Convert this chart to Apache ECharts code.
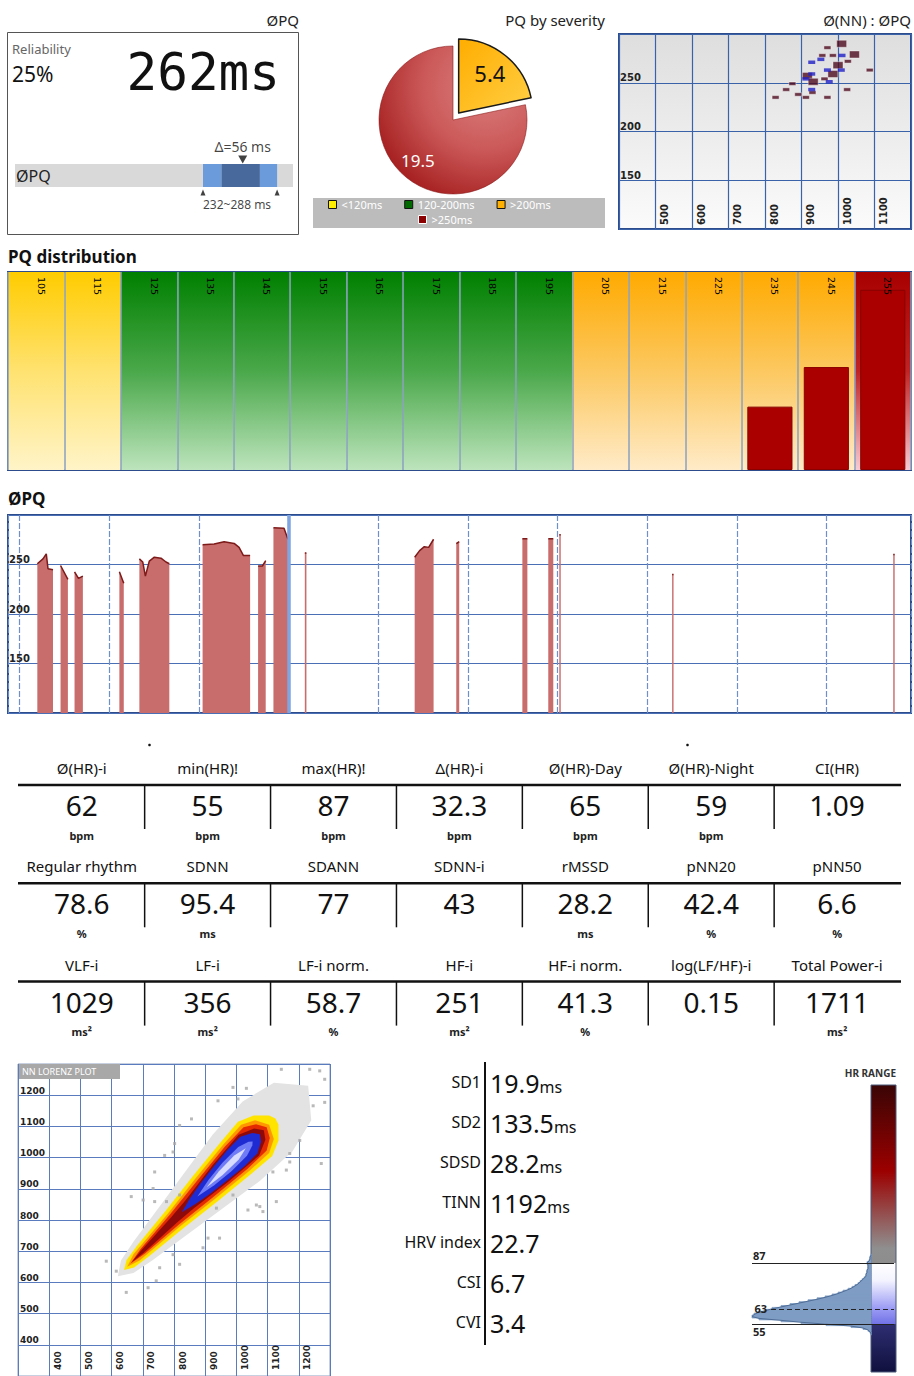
<!DOCTYPE html>
<html><head><meta charset="utf-8">
<script src="https://cdn.jsdelivr.net/npm/echarts@6/dist/echarts.min.js"></script>
<style>html,body{margin:0;padding:0;background:#fff}#c{width:914px;height:1376px}</style>
</head><body><div id="c"></div>
<script>
// ---------------- DATA ----------------
const reliability = 25;
const pqMean = 262;
const pqRange = [232, 288];
const pqCore = [246, 275];

const severityNames = ['<120ms', '120-200ms', '>200ms', '>250ms'];
const severityValues = [0, 0, 5.4, 19.5];

// Ø(NN) : ØPQ  [NN ms, PQ ms, count]
const nnPqDark = [[1010,290,2],[971,286,1],[957,278,1],[986,278,1],[1045,279,2],[1027,272,1],[1000,268,2],[1087,263,1],[916,257,2],[932,251,2],[963,254,1],[986,259,2],[875,249,1],[858,243,1],[891,238,1],[829,235,1],[912,235,1],[930,240,1],[971,235,1],[1025,243,1]];
const nnPqBlue = [[928,271,1],[953,274,1],[1011,278,1],[971,263,1],[1009,263,1],[928,259,1],[912,254,1],[976,251,1],[928,243,1]];

const distCategories = ['105','115','125','135','145','155','165','175','185','195','205','215','225','235','245','255'];
const distValues = [null,null,null,null,null,null,null,null,null,null,null,null,null,32,52,91];

// ØPQ trend: [hours, PQ ms], null = no data
const trendData = [
 [0.197,250.8],[0.260,255.7],[0.297,260.7],[0.316,245.8],[0.372,244.8],[0.41,null],
 [0.456,249],[0.538,235],[0.57,null],
 [0.612,242.6],[0.656,236],[0.705,238.3],[0.8,null],
 [1.112,242.6],[1.161,231],[1.2,null],
 [1.335,255.7],[1.373,252.5],[1.402,238.3],[1.446,253.5],[1.502,257.4],[1.576,256.4],[1.632,252.5],[1.669,250.8],[1.8,null],
 [2.040,270],[2.169,270.6],[2.280,272.9],[2.392,271.3],[2.447,267.3],[2.496,259],[2.570,259],[2.6,null],
 [2.659,248.5],[2.707,248.5],[2.744,254],[2.78,null],
 [2.830,287],[2.948,286.5],[2.992,275.5],[3.05,null],
 [3.180,261.7],[3.198,261.7],[3.3,null],
 [4.405,257.4],[4.460,264],[4.513,268],[4.561,267.3],[4.616,275.5],[4.7,null],
 [4.869,271],[4.902,273],[5.0,null],
 [5.606,276],[5.662,276],[5.7,null],
 [5.895,276],[5.951,276],[5.99,null],
 [6.018,280],[6.034,280],[6.1,null],
 [7.276,240],[7.292,240],[7.4,null],
 [9.742,260],[9.758,260]
];
const trendMarker = 3;
const trendYTicks = [150, 200, 250];

const statHeaders = [
 ['Ø(HR)-i','min(HR)!','max(HR)!','Δ(HR)-i','Ø(HR)-Day','Ø(HR)-Night','CI(HR)'],
 ['Regular rhythm','SDNN','SDANN','SDNN-i','rMSSD','pNN20','pNN50'],
 ['VLF-i','LF-i','LF-i norm.','HF-i','HF-i norm.','log(LF/HF)-i','Total Power-i']
];
const statValues = [
 ['62','55','87','32.3','65','59','1.09'],
 ['78.6','95.4','77','43','28.2','42.4','6.6'],
 ['1029','356','58.7','251','41.3','0.15','1711']
];
const statUnits = [
 ['bpm','bpm','bpm','bpm','bpm','bpm',''],
 ['%','ms','','','ms','%','%'],
 ['ms²','ms²','%','ms²','%','','ms²']
];

// NN Lorenz plot density layers (outline polygons, ms) outer -> inner
const pcGrey   = [[620,620],[630,670],[670,730],[755,845],[840,960],[925,1075],[1020,1180],[1120,1240],[1230,1230],[1240,1120],[1180,1020],[1075,925],[960,840],[845,755],[730,670],[670,630]];
const pcYellow = [[640,640],[648,672],[682,718],[772,828],[860,940],[950,1050],[1005,1115],[1055,1135],[1105,1135],[1125,1125],[1135,1105],[1135,1055],[1115,1005],[1050,950],[940,860],[828,772],[718,682],[672,648]];
const pcOrange = [[650,650],[670,690],[780,820],[868,932],[958,1042],[1015,1105],[1060,1120],[1105,1105],[1120,1060],[1105,1015],[1042,958],[932,868],[820,780],[690,670]];
const pcRed    = [[660,660],[693,707],[785,815],[874,926],[964,1036],[1023,1097],[1063,1107],[1097,1097],[1107,1063],[1097,1023],[1036,964],[926,874],[815,785],[707,693]];
const pcDark   = [[665,665],[696,704],[791,809],[837,863],[924,976],[1007,1073],[1057,1093],[1088,1088],[1093,1057],[1073,1007],[976,924],[863,837],[809,791],[704,696]];
const pcBlue   = [[825,825],[851,869],[884,916],[928,972],[973,1027],[1013,1067],[1051,1079],[1075,1075],[1079,1051],[1067,1013],[1027,973],[972,928],[916,884],[869,851]];
const pcLight  = [[875,875],[911,929],[956,984],[1006,1034],[1039,1051],[1052,1052],[1051,1039],[1034,1006],[984,956],[929,911]];
const pcWhite  = [[905,905],[944,956],[993,1007],[1030,1030],[1007,993],[956,944]];
const pcOutliers = [[1144,1283],[1235,1283],[1267,1278],[1283,1251],[1032,1222],[989,1225],[1005,1188],[941,1182],[856,1124],[818,1103],[802,1045],[797,1018],[770,1007],[738,954],[733,901],[663,875],[701,864],[738,859],[776,859],[818,880],[1117,954],[1160,960],[1171,986],[1272,981],[1128,859],[1064,848],[1037,832],[1085,827],[1075,843],[946,742],[893,711],[909,742],[818,658],[754,647],[743,605],[717,583],[647,568],[583,668],[615,636],[1171,1013],[1203,1055],[1246,1166],[1283,1177],[936,838],[989,880],[797,689]];

const sdLabels = ['SD1','SD2','SDSD','TINN','HRV index','CSI','CVI'];
const sdValues = ['19.9','133.5','28.2','1192','22.7','6.7','3.4'];
const sdUnits  = ['ms','ms','ms','ms','','',''];

// HR histogram [bpm, relative count]
const hrHist = [[91,0],[90,1],[89,1],[88,2],[87,4],[86,3],[85,3],[84,3],[83,4],[82,4],[81,5],[80,5],[79,7],[78,9],[77,11],[76,13],[75,16],[74,19],[73,23],[72,28],[71,33],[70,39],[69,46],[68,54],[67,63],[66,72],[65,81],[64,90],[63,99],[62,106],[61,113],[60,117],[59,119],[58,112],[57,90],[56,70],[55,45],[54,20],[53,8],[52,3],[51,1],[50,0]];
const hrMax = 87, hrMean = 63, hrMin = 55;
const hrScale = [30, 180];

// ---------------- STYLE / BUILD ----------------
const FONT = '"Noto Sans", "DejaVu Sans", sans-serif';
const lin = (stops, x2, y2) => ({type:'linear', x:0, y:0, x2: x2 === undefined ? 0 : x2, y2: y2 === undefined ? 1 : y2, colorStops: stops.map((c,i)=>({offset: i/(stops.length-1), color:c}))});

const G = [];
function T(x, y, text, font, fill, align, valign, z) {
  G.push({type:'text', x:x, y:y, silent:true, z: z||5, style:{text:text, font:font, fill:fill||'#111',
    textAlign:align||'left', textVerticalAlign:valign||'middle', align:align||'left', verticalAlign:valign||'middle'}});
}
function R(x, y, w, h, style, z) { G.push({type:'rect', silent:true, z: z||0, shape:{x:x,y:y,width:w,height:h}, style:style}); }
function L(x1, y1, x2, y2, w, color) { G.push({type:'line', silent:true, z:5, shape:{x1:x1,y1:y1,x2:x2,y2:y2}, style:{stroke:color||'#111', lineWidth:w}}); }

// titles
T(299, 20, 'ØPQ', '15px ' + FONT, '#222', 'right');
T(605, 20, 'PQ by severity', '15px ' + FONT, '#222', 'right');
T(911, 20, 'Ø(NN) : ØPQ', '15px ' + FONT, '#222', 'right');
T(8, 256, 'PQ distribution', 'bold 17px ' + FONT, '#111', 'left');
T(8, 498, 'ØPQ', 'bold 17px ' + FONT, '#111', 'left');

// top-left panel
R(7.5, 32.5, 291, 202, {fill:'none', stroke:'#555', lineWidth:1});
T(12, 49, 'Reliability', '13px ' + FONT, '#666');
T(12, 74, reliability + '%', '21px ' + FONT, '#111');
T(280, 72, pqMean + 'ms', '51px "DejaVu Sans Mono", monospace', '#111', 'right');
T(16, 176, 'ØPQ', '16px ' + FONT, '#222', 'left', 'middle', 6);

// pie legend box
R(313, 198, 292, 30, {fill:'#bcbcbc'});

// stats table
const rowY0 = 768, rowStep = 98.3, colX0 = 81.7, colStep = 125.9;
statHeaders.forEach((row, r) => {
  const y = rowY0 + r * rowStep;
  row.forEach((h, c) => {
    const cx = colX0 + c * colStep;
    T(cx, y, h, '15px ' + FONT, '#111', 'center');
    T(cx, y + 37, statValues[r][c], '28px ' + FONT, '#111', 'center');
    if (statUnits[r][c]) T(cx, y + 67, statUnits[r][c], 'bold 11px ' + FONT, '#222', 'center');
    if (c < 6) L(cx + colStep/2, y + 17, cx + colStep/2, y + 61, 1.5);
  });
  L(18, y + 17, 901, y + 17, 2.5);
});
G.push({type:'circle', silent:true, shape:{cx:149.5, cy:745, r:1.3}, style:{fill:'#111'}});
G.push({type:'circle', silent:true, shape:{cx:687.5, cy:745, r:1.3}, style:{fill:'#111'}});

// SD panel
L(485, 1062, 485, 1345, 2);
sdLabels.forEach((lab, i) => {
  const y = 1082 + i * 40;
  T(481, y, lab, '16px ' + FONT, '#111', 'right');
  G.push({type:'text', x:490, y:y + 1, silent:true, z:5, style:{
    text: '{v|' + sdValues[i] + '}' + (sdUnits[i] ? '{u|' + sdUnits[i] + '}' : ''),
    textVerticalAlign:'middle', verticalAlign:'middle', textAlign:'left', align:'left',
    rich:{ v:{font:'25px ' + FONT, fill:'#111', color:'#111', verticalAlign:'bottom'},
           u:{font:'16px ' + FONT, fill:'#111', color:'#111', verticalAlign:'bottom', padding:[0,0,1,0]} }
  }});
});

// Lorenz label & HR range label
R(19, 1064, 101, 15, {fill:'#a8a8a8'}, 6);
T(22, 1071.5, 'NN LORENZ PLOT', '9px ' + FONT, '#fff', 'left', 'middle', 7);
T(896, 1073, 'HR RANGE', 'bold 10px ' + FONT, '#333', 'right');

// severity colours
const sevLegendColors = ['#ffee00', '#006a00', '#ffb000', '#8b0000'];
const sevClassOf = v => v < 120 ? 0 : v < 200 ? 1 : v < 250 ? 2 : 3;
const bandGrad = [
  lin(['#ffcc00', '#ffe270', '#fff4c8']),
  lin(['#008000', '#4aa84a', '#bde4bd']),
  lin(['#ffaa00', '#fcc860', '#ffebc8']),
  lin(['#a80000', '#c02424', '#f6ccd4'])
];

const pcLayers = [pcGrey, pcYellow, pcOrange, pcRed, pcDark, pcBlue, pcLight, pcWhite];
const pcColors = ['#e3e3e3', '#ffe400', '#ff9800', '#e42a00', '#8e0a0a', '#1f2bd2', '#6f7cf5', '#d8dcff'];

const hrGrad = {type:'linear', x:0, y:0, x2:0, y2:1, colorStops:[
  {offset:0, color:'#3a0505'},
  {offset:0.3, color:'#9c0000'},
  {offset:0.57, color:'#8f8f8f'},
  {offset:(hrScale[1]-hrMax)/(hrScale[1]-hrScale[0]), color:'#8d8d8d'},
  {offset:(hrScale[1]-hrMax)/(hrScale[1]-hrScale[0]) + 0.001, color:'#ffffff'},
  {offset:0.68, color:'#f4f4ff'},
  {offset:(hrScale[1]-hrMean)/(hrScale[1]-hrScale[0]), color:'#9a9af5'},
  {offset:(hrScale[1]-hrMin)/(hrScale[1]-hrScale[0]), color:'#7272e6'},
  {offset:(hrScale[1]-hrMin)/(hrScale[1]-hrScale[0]) + 0.001, color:'#2e2e72'},
  {offset:1, color:'#10103e'}
]};

const axisLblSmall = {fontSize:10, color:'#222', fontWeight:'bold', fontFamily:'DejaVu Sans, sans-serif', formatter: v => String(v)};

const option = {
  animation: false,
  textStyle: {fontFamily: FONT},
  graphic: {elements: G},
  legend: [
    {data: severityNames.slice(0,3).map((n,i)=>({name:n, itemStyle:{color:sevLegendColors[i]}})), left:328, top:199, itemWidth:8, itemHeight:8, itemGap:22, icon:'rect', selectedMode:false,
     itemStyle:{borderColor:'#111', borderWidth:1}, textStyle:{color:'#fff', fontSize:11, fontFamily:FONT}, padding:0, z:6},
    {data: [{name:severityNames[3], itemStyle:{color:sevLegendColors[3]}}], left:418, top:214, itemWidth:8, itemHeight:8, icon:'rect', selectedMode:false,
     itemStyle:{borderColor:'#fff', borderWidth:1}, textStyle:{color:'#fff', fontSize:11, fontFamily:FONT}, padding:0, z:6}
  ],
  grid: [
    {left:15, top:164, width:278, height:23},
    {left:619, top:34, width:292, height:195, show:true, borderColor:'#2c4c8c', borderWidth:2, backgroundColor: lin(['#dedede','#ececec','#fbfbfb'])},
    {left:8, top:272, width:903, height:198, show:true, borderColor:'#2c4c8c', borderWidth:2},
    {left:8, top:515, width:903, height:198, show:true, borderColor:'#2c4c8c', borderWidth:2},
    {left:18, top:1064, width:312, height:316, show:true, borderColor:'#8da0c0', borderWidth:1},
    {left:752, top:1085, width:144, height:287},
    {left:8, top:272, width:903, height:198}
  ],
  xAxis: [
    {gridIndex:0, type:'value', min:90, max:300, show:false},
    {gridIndex:1, type:'value', min:400, max:1200, interval:100, axisLine:{show:false}, axisTick:{show:false},
     splitLine:{lineStyle:{color:'#3a62a8', width:1.2}},
     axisLabel:Object.assign({inside:true, rotate:90, align:'left', verticalAlign:'top', margin:4, padding:[4,0,0,0], showMinLabel:false, showMaxLabel:false}, axisLblSmall)},
    {gridIndex:2, type:'category', data:distCategories, position:'top', boundaryGap:true, axisLine:{show:false}, axisTick:{show:false}, axisLabel:{show:false},
     splitLine:{show:true, interval:0, lineStyle:{color:'#8aa0bf', width:1.5}},
     splitArea:{show:true, interval:0, areaStyle:{color: distCategories.map(c => bandGrad[sevClassOf(+c)])}}},
    {gridIndex:3, type:'value', min:-0.13, max:9.94, splitNumber:10, axisLine:{show:false}, axisTick:{show:false}, axisLabel:{show:false},
     splitLine:{lineStyle:{color:'#6f8fc9', width:1.2, type:[6,2]}}},
    {gridIndex:4, type:'value', min:300, max:1300, interval:100, axisLine:{show:false}, axisTick:{show:false},
     splitLine:{lineStyle:{color:'#5a7bbd', width:1}},
     axisLabel:Object.assign({inside:true, rotate:90, align:'left', verticalAlign:'top', margin:6, padding:[4,0,0,0], showMinLabel:false, showMaxLabel:false}, axisLblSmall, {fontSize:9})},
    {gridIndex:5, type:'value', min:-25, max:119, inverse:true, show:false},
    // label-only axis for PQ distribution (overlay grid), drawn above the bars
    {gridIndex:6, type:'category', data:distCategories, position:'top', boundaryGap:true, z:5, axisLine:{show:false}, axisTick:{show:false},
     splitLine:{show:false}, splitArea:{show:false},
     axisLabel:{inside:true, interval:0, rotate:-90, align:'left', verticalAlign:'bottom', margin:5, fontSize:9.5, color:'#000', fontFamily:'DejaVu Sans, sans-serif'}}
  ],
  yAxis: [
    {gridIndex:0, type:'category', data:['PQ'], show:false},
    {gridIndex:1, type:'value', min:100, max:300, interval:50, axisLine:{show:false}, axisTick:{show:false},
     splitLine:{lineStyle:{color:'#3a62a8', width:1.2}},
     axisLabel:Object.assign({inside:true, align:'left', verticalAlign:'bottom', margin:1, showMinLabel:false, showMaxLabel:false}, axisLblSmall)},
    {gridIndex:2, type:'value', min:0, max:100, show:false},
    {gridIndex:3, type:'value', min:100, max:300, interval:50, axisLine:{show:false}, axisTick:{show:false},
     splitLine:{lineStyle:{color:'#4a6fb5', width:1.2}},
     axisLabel:Object.assign({inside:true, align:'left', verticalAlign:'bottom', margin:1, showMinLabel:false, showMaxLabel:false}, axisLblSmall,
       {formatter: v => trendYTicks.indexOf(v) >= 0 ? String(v) : ''})},
    {gridIndex:4, type:'value', min:300, max:1300, interval:100, axisLine:{show:false}, axisTick:{show:false},
     splitLine:{lineStyle:{color:'#5a7bbd', width:1}},
     axisLabel:Object.assign({inside:true, align:'left', verticalAlign:'bottom', margin:2, showMinLabel:false, showMaxLabel:false}, axisLblSmall, {fontSize:9})},
    {gridIndex:5, type:'value', min:hrScale[0], max:hrScale[1], show:false},
    {gridIndex:6, type:'value', min:0, max:100, show:false}
  ],
  series: [
    // PQ range bar
    {type:'bar', xAxisIndex:0, yAxisIndex:0, stack:'r', barWidth:'100%', data:[pqRange[0]], itemStyle:{color:'rgba(0,0,0,0)'},
     showBackground:true, backgroundStyle:{color:'#d9d9d9'}, silent:true},
    {type:'bar', xAxisIndex:0, yAxisIndex:0, stack:'r', barWidth:'100%', data:[pqCore[0]-pqRange[0]], itemStyle:{color:'#6c9bdb'}, silent:true},
    {type:'bar', xAxisIndex:0, yAxisIndex:0, stack:'r', barWidth:'100%', data:[pqCore[1]-pqCore[0]], itemStyle:{color:'#47699b'}, silent:true},
    {type:'bar', xAxisIndex:0, yAxisIndex:0, stack:'r', barWidth:'100%', data:[pqRange[1]-pqCore[1]], itemStyle:{color:'#6c9bdb'}, silent:true},
    {type:'scatter', xAxisIndex:0, yAxisIndex:0, silent:true, z:5, itemStyle:{color:'#111'}, data:[
      {value:[pqMean,'PQ'], symbol:'triangle', symbolRotate:180, symbolSize:[9,8], symbolOffset:[0,-16],
       label:{show:true, position:'top', distance:2, formatter:'Δ=' + (pqRange[1]-pqRange[0]) + ' ms', fontSize:14, color:'#111', fontFamily:FONT}},
      {value:[pqRange[0],'PQ'], symbol:'triangle', symbolSize:[5,6], symbolOffset:[0,17]},
      {value:[pqRange[1],'PQ'], symbol:'triangle', symbolSize:[5,6], symbolOffset:[0,17]},
      {value:[(pqRange[0]+pqRange[1])/2,'PQ'], symbolSize:0.1,
       label:{show:true, position:'inside', offset:[-3,29], formatter: pqRange.join('~') + ' ms', fontSize:12, color:'#111', fontFamily:FONT}}
    ]},
    // pie
    {type:'pie', center:[453,120], radius:74, startAngle:90, clockwise:true, selectedMode:'single', selectedOffset:9,
     avoidLabelOverlap:false, silent:true, labelLine:{show:false},
     labelLayout: p => p.dataIndex === 3 ? {dx:-10, dy:9} : (p.dataIndex === 2 ? {dx:6, dy:-9} : {}),
     label:{show:true, position:'inside', formatter: p => p.value ? String(p.value) : ''},
     data: severityNames.map((n, i) => {
       const d = {name:n, value:severityValues[i]};
       if (i === 2) { d.selected = true; d.itemStyle = {color: lin(['#ffad00','#ffcf45'],1,1), borderColor:'#1a1a1a', borderWidth:1.5};
         d.label = {color:'#111', fontSize:22}; }
       else if (i === 3) { d.itemStyle = {color:{type:'radial', x:0.72, y:0.28, r:0.95, colorStops:[{offset:0,color:'#db8080'},{offset:0.45,color:'#cb5858'},{offset:1,color:'#990c0c'}]}, borderColor:'#8a1a1a', borderWidth:0.6};
         d.label = {color:'#fff', fontSize:17}; }
       else { d.itemStyle = {color:sevLegendColors[i], borderWidth:0}; d.label = {show:false}; }
       return d;
     })},
    // NN : PQ scatter
    {type:'scatter', xAxisIndex:1, yAxisIndex:1, symbol:'rect', silent:true, data:nnPqDark,
     symbolSize: v => v[2] > 1 ? [10,7] : [7,3.5], itemStyle:{color:'#4d0b1f', borderColor:'#fff', borderWidth:0.5}},
    {type:'scatter', xAxisIndex:1, yAxisIndex:1, symbol:'rect', silent:true, data:nnPqBlue,
     symbolSize: v => v[2] > 1 ? [10,7] : [7,3.5], itemStyle:{color:'#2020c8'}},
    // PQ distribution
    {type:'bar', xAxisIndex:2, yAxisIndex:2, data:distValues, barWidth:'80%', silent:true,
     itemStyle:{color:'#aa0000', borderColor:'#8a0000', borderWidth:1}},
    // ØPQ trend
    {type:'line', xAxisIndex:3, yAxisIndex:3, data:trendData, symbol:'none', connectNulls:false, silent:true,
     lineStyle:{color:'#7d1a1a', width:1.5}, areaStyle:{color:'#c96c6c', opacity:1, origin:'start'},
     markLine:{silent:true, symbol:['none','none'], label:{show:false}, lineStyle:{color:'#7ea5df', width:3.5, type:'solid'},
       data:[{xAxis:trendMarker}]}},
    // Lorenz plot
    {type:'scatter', xAxisIndex:4, yAxisIndex:4, data:pcOutliers, symbol:'rect', symbolSize:3, silent:true, itemStyle:{color:'#a8a8a8'}},
    {type:'custom', xAxisIndex:4, yAxisIndex:4, silent:true, clip:true,
     data: pcLayers.map((_, i) => [pcLayers[i][0][0], pcLayers[i][0][1]]),
     renderItem: (params, api) => ({type:'polygon', shape:{points: pcLayers[params.dataIndex].map(p => api.coord(p))},
       style:{fill: pcColors[params.dataIndex]}})},
    // HR range colour bar
    {type:'custom', xAxisIndex:5, yAxisIndex:5, silent:true, clip:false, data:[[0, hrScale[1]]],
     renderItem: (params, api) => {
       const a = api.coord([0, hrScale[1]]), b = api.coord([-25, hrScale[0]]);
       return {type:'rect', shape:{x:a[0], y:a[1], width:b[0]-a[0], height:b[1]-a[1]}, style:{fill:hrGrad, stroke:'#4a5a7a', lineWidth:1}};
     }},
    // HR histogram fill
    {type:'custom', xAxisIndex:5, yAxisIndex:5, silent:true, clip:false, data: hrHist.map(d => [d[1], d[0]]),
     renderItem: (params, api) => {
       const c = api.value(0), h = api.value(1);
       const a = api.coord([c, h + 0.5]), b = api.coord([0, h - 0.5]);
       return {type:'rect', shape:{x:a[0], y:a[1] - 0.5, width:b[0]-a[0], height:b[1]-a[1] + 1}, style:{fill:'#7f9dc4', stroke:'#7f9dc4', lineWidth:0.8}};
     }},
    // HR histogram outline + markers
    {type:'line', xAxisIndex:5, yAxisIndex:5, silent:true, symbol:'none', data: hrHist.map(d => [d[1], d[0]]),
     lineStyle:{color:'#4f6d96', width:1}, z:4,
     markLine:{silent:true, symbol:['none','none'],
       label:{color:'#222', fontSize:11, fontWeight:'bold', fontFamily:FONT},
       data:[
         [{coord:[119, hrMax], lineStyle:{color:'#222', width:1.2, type:'solid'}, label:{formatter:String(hrMax), position:'insideStartTop', distance:[1,2]}}, {coord:[-23, hrMax]}],
         [{coord:[100, hrMean], lineStyle:{color:'#222', width:1.2, type:[5,3]}, label:{formatter:String(hrMean), position:'start', distance:4}}, {coord:[-23, hrMean]}],
         [{coord:[119, hrMin], lineStyle:{color:'#222', width:1.2, type:'solid'}, label:{formatter:String(hrMin), position:'insideStartBottom', distance:[1,2]}}, {coord:[-23, hrMin]}]
       ]}}
  ]
};

const chart = echarts.init(document.getElementById('c'), null, {renderer:'svg', width:914, height:1376});
chart.setOption(option);
</script>
</body></html>
